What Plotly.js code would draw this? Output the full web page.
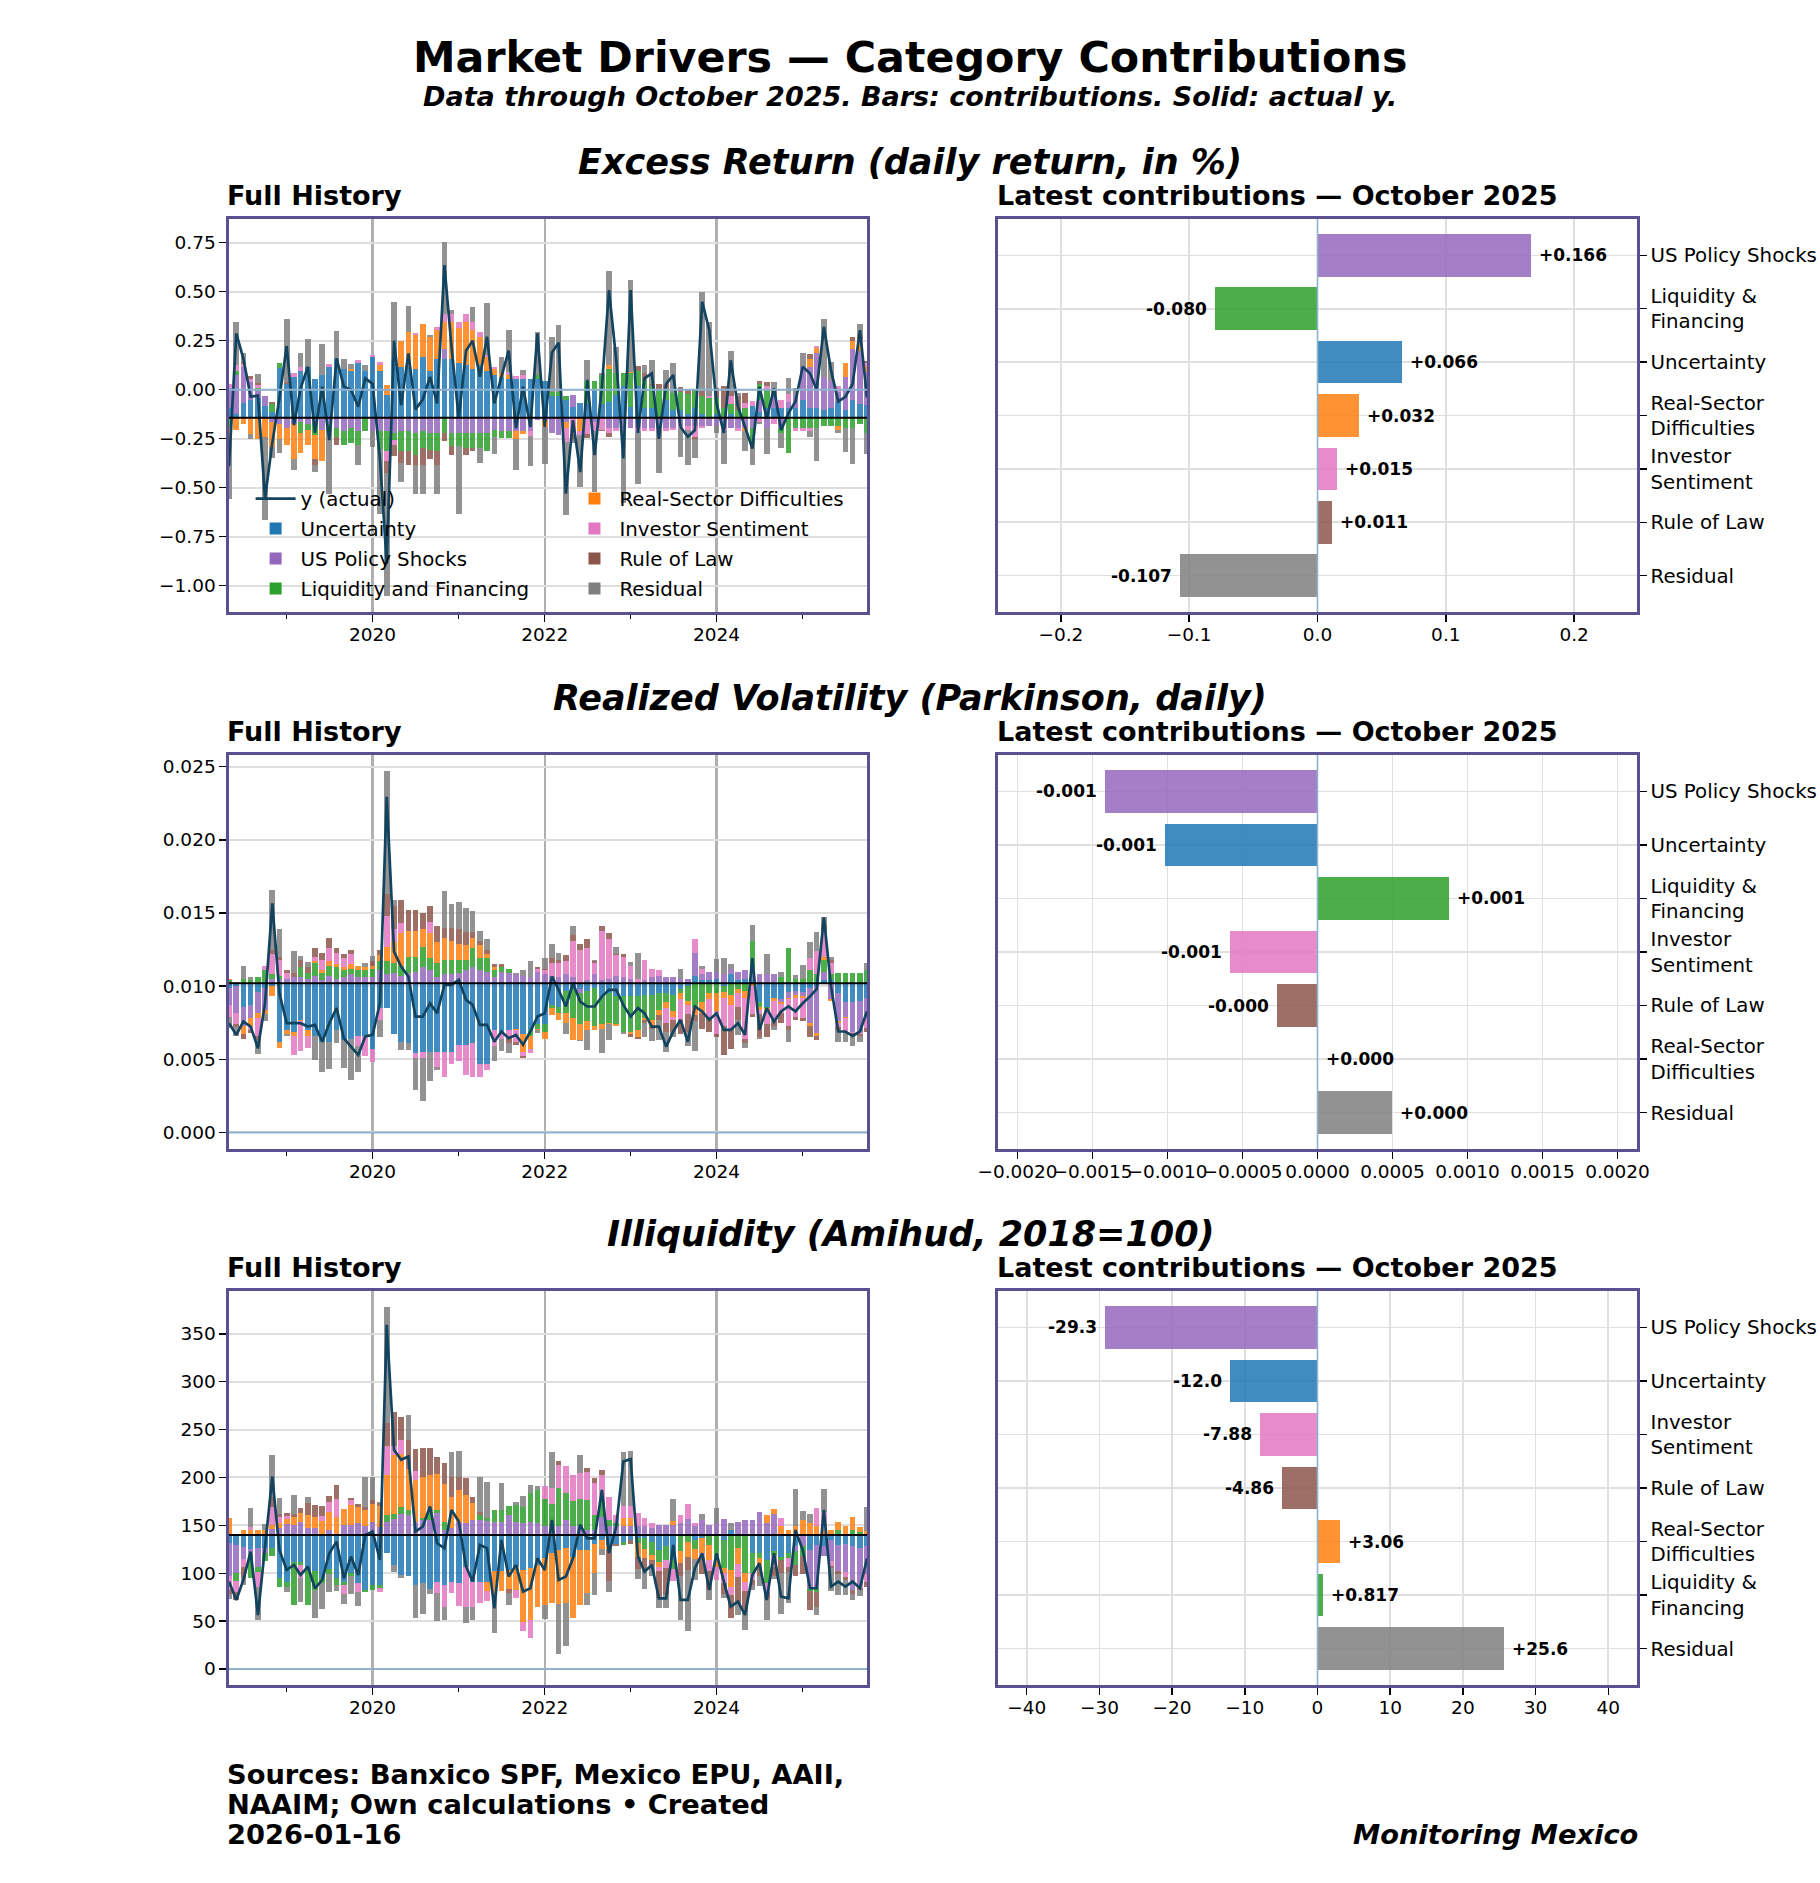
<!DOCTYPE html>
<html><head><meta charset="utf-8">
<script src="https://cdn.plot.ly/plotly-3.0.1.min.js"></script>
<style>html,body{margin:0;padding:0;background:#fff}</style>
</head><body><div id="chart" style="width:1820px;height:1883px"></div>
<script>
// ---------------- DATA ----------------
const months = [
 '2018-05-01','2018-06-01','2018-07-01','2018-08-01','2018-09-01','2018-10-01','2018-11-01','2018-12-01',
 '2019-01-01','2019-02-01','2019-03-01','2019-04-01','2019-05-01','2019-06-01','2019-07-01','2019-08-01','2019-09-01','2019-10-01','2019-11-01','2019-12-01',
 '2020-01-01','2020-02-01','2020-03-01','2020-04-01','2020-05-01','2020-06-01','2020-07-01','2020-08-01','2020-09-01','2020-10-01','2020-11-01','2020-12-01',
 '2021-01-01','2021-02-01','2021-03-01','2021-04-01','2021-05-01','2021-06-01','2021-07-01','2021-08-01','2021-09-01','2021-10-01','2021-11-01','2021-12-01',
 '2022-01-01','2022-02-01','2022-03-01','2022-04-01','2022-05-01','2022-06-01','2022-07-01','2022-08-01','2022-09-01','2022-10-01','2022-11-01','2022-12-01',
 '2023-01-01','2023-02-01','2023-03-01','2023-04-01','2023-05-01','2023-06-01','2023-07-01','2023-08-01','2023-09-01','2023-10-01','2023-11-01','2023-12-01',
 '2024-01-01','2024-02-01','2024-03-01','2024-04-01','2024-05-01','2024-06-01','2024-07-01','2024-08-01','2024-09-01','2024-10-01','2024-11-01','2024-12-01',
 '2025-01-01','2025-02-01','2025-03-01','2025-04-01','2025-05-01','2025-06-01','2025-07-01','2025-08-01','2025-09-01','2025-10-01'];

const seriesNames = ['Uncertainty','US Policy Shocks','Liquidity and Financing','Real-Sector Difficulties','Investor Sentiment','Rule of Law','Residual'];
const barLabels = ['Uncertainty','US Policy Shocks','Liquidity &<br>Financing','Real-Sector<br>Difficulties','Investor<br>Sentiment','Rule of Law','Residual'];
const colors = ['#1f77b4','#9467bd','#2ca02c','#ff7f0e','#e377c2','#8c564b','#7f7f7f'];

// ---- Excess Return (daily return, in %) ----
const er_baseline = -0.143;
const er_y = [-0.39,0.287,0.159,-0.036,-0.03,-0.555,-0.27,-0.044,0.223,-0.18,
 0.007,0.117,-0.22,0.015,-0.257,0.16,0.015,0.0,-0.087,0.058,
 0.03,-0.35,-0.886,0.25,-0.08,0.185,-0.10,-0.05,0.066,-0.07,
 0.636,0.22,-0.146,0.2,0.25,0.066,0.27,-0.07,0.066,0.2,
 -0.197,0.015,-0.19,0.287,-0.19,0.19,0.24,-0.53,-0.155,-0.42,
 0.05,-0.333,0.015,0.508,0.15,-0.35,0.508,-0.22,0.058,0.083,
 -0.25,0.03,0.075,-0.19,-0.24,-0.206,0.449,0.304,-0.07,-0.22,
 0.15,-0.087,-0.19,-0.3,0.015,-0.146,0.007,-0.206,-0.12,-0.06,
 0.117,0.083,0.0,0.32,0.1,-0.06,-0.036,0.03,0.304,-0.04];
const er_unc = [.05,.02,.077,.09,.1,.06,.03,.255,.17,.21,
 .24,.26,.20,.22,.26,.30,.25,.24,.28,.24,
 .31,.24,.116,.30,.26,.26,.25,.31,.24,.30,
 .30,.30,.28,.27,.25,.27,.24,.22,.21,.2,
 .2,.2,.2,.2,.19,.11,.11,.09,.055,.075,
 .07,.14,.07,.08,.116,.16,.056,.16,.05,.05,
 0,.09,.04,.04,.02,.05,.02,0,.02,0,
 .02,0,0,.06,.03,.05,.05,.05,.05,.05,
 .09,.05,.05,.04,.05,.08,.04,.09,.07,.066];
const er_pol = [.1,.2,.18,.09,.035,.05,-.02,-.03,-.05,-.03,
 -.02,-.03,-.02,-.06,-.03,-.05,-.07,-.05,-.07,0,
 -.07,-.07,-.07,-.077,-.07,-.07,-.08,-.07,-.077,-.077,
 .05,-.077,-.077,-.077,-.077,-.077,-.077,-.06,-.068,-.068,
 -.068,-.068,-.068,-.01,-.01,-.077,-.09,-.02,.06,0,
 0,-.02,0,-.05,-.05,-.05,-.05,-.05,-.05,-.05,
 -.05,-.05,-.05,-.04,-.04,-.04,-.04,-.04,-.04,-.05,
 -.05,-.05,-.05,-.05,.06,-.05,.07,-.05,.03,.07,
 .17,.21,.28,.17,.14,.05,.17,.26,.27,.166];
const er_liq = [-.05,.02,0,0,.015,0,.04,.024,0,0,
 -.06,-.03,-.07,0,-.04,-.05,-.07,-.08,-.07,-.07,
 0,-.09,-.1,-.034,-.1,-.1,-.11,-.085,-.085,-.094,
 -.077,-.068,-.068,-.077,-.077,-.077,-.094,-.04,-.034,-.037,
 0,0,0,.02,0,.02,.02,.02,0,0,
 .12,.05,.15,.17,.11,.07,.17,.077,.145,.11,
 .14,.05,.085,.09,.1,.09,.09,.1,.08,.05,
 .05,.04,.05,-.085,.08,.09,0,-.03,-.18,-.05,
 -.05,-.05,-.05,-.04,-.04,-.04,-.05,-.05,-.03,-.080];
const er_real = [-.08,-.06,-.03,-.085,-.11,-.1,-.13,-.08,-.09,-.18,
 -.1,-.08,-.12,-.16,0,0,0,.01,0,0,
 0,.03,.05,0,.13,.18,.17,.17,.17,.15,
 .136,.19,.18,.22,.2,.14,.07,.03,.02,.02,
 -.04,-.017,0,0,-.035,0,0,-.034,0,-.068,
 0,0,0,.017,0,0,.01,0,0,0,
 0,0,0,0,0,0,0,0,0,0,
 0,0,-.02,0,0,0,0,0,0,0,
 0,.04,.025,0,0,-.02,.07,.04,.04,.032];
const er_sent = [.02,.03,.017,.02,.015,0,0,0,0,.017,
 .017,0,0,0,.014,0,0,0,.017,0,
 .012,.014,-.05,-.026,0,0,.01,0,0,.012,
 .042,.04,.03,.04,.04,.03,.01,.01,0,.015,
 .015,.02,-.025,0,0,0,0,-.068,-.085,-.02,
 -.085,-.05,-.06,-.03,-.02,-.02,0,-.02,-.02,-.02,
 -.02,-.02,-.01,-.01,-.02,-.06,-.01,.01,0,-.02,
 .04,-.02,.025,.025,-.02,.02,-.03,.04,.04,-.02,
 -.02,-.02,.01,0,0,.03,0,0,.02,.015];
const er_law = [0,0,.01,.015,.01,0,.01,0,.012,0,
 0,0,-.03,0,0,-.04,0,0,0,0,
 0,0,-.06,-.06,-.06,-.07,-.05,-.085,-.05,-.068,
 -.043,-.043,0,-.034,-.017,0,0,0,0,0,
 0,0,0,0,0,0,0,0,-.025,0,
 -.017,0,-.01,-.02,0,0,0,.025,.034,.01,
 .034,.03,0,.025,.025,-.01,.025,0,.05,.11,
 .03,.07,.05,0,.02,.02,.02,0,0,0,
 0,.025,0,0,0,0,0,.02,.02,.011];
const er_res = [-.287,.22,.048,-.023,.048,-.422,-.057,-.07,.324,-.054,
 .073,.14,-.037,.158,-.318,.143,.048,.023,-.1,.03,
 -.079,-.331,-.629,.29,-.097,.128,-.147,-.147,.011,-.15,
 .371,.021,-.348,.001,.074,-.077,.264,-.087,.081,.213,
 -.161,.023,-.154,.22,-.192,.28,.343,-.375,-.017,-.264,
 .105,-.31,.008,.484,.137,-.367,.465,-.269,.042,.126,
 -.211,.073,.153,-.152,-.182,-.093,.507,.377,-.037,-.167,
 .203,.016,-.102,-.107,-.012,-.133,.04,-.073,.083,.033,
 .07,-.029,-.172,.293,.093,-.017,-.123,-.187,.057,-.107];

// ---- Realized Volatility (Parkinson, daily) ----
const vol_baseline = 0.0102;
const vol_y = [.00747,.00667,.00758,.00724,.00576,.00883,.01566,.00952,.00747,.00747,
 .00747,.00724,.00735,.0062,.00747,.0085,.00644,.00587,.0053,.00656,
 .00667,.00883,.02295,.01236,.01134,.01066,.00792,.00792,.00883,.00815,
 .01009,.01009,.01043,.00906,.00872,.00735,.00735,.0062,.0069,.00644,
 .00667,.00599,.0069,.00792,.00815,.01066,.00975,.00861,.0102,.00895,
 .00861,.00861,.00929,.00975,.00975,.00872,.00792,.0085,.00815,.00724,
 .00724,.00587,.0069,.0077,.0062,.00861,.00827,.0077,.00815,.00701,
 .00701,.00747,.00667,.01191,.00701,.0085,.00758,.00827,.00861,.00827,
 .00883,.0093,.0098,.0147,.0100,.0069,.0069,.0066,.0069,.00828];
const vol_unc = [-.0003,-.0002,-.0016,-.0015,-.0006,-.0003,-.0002,-.004,-.0032,-.0033,
 -.0025,-.0032,-.0036,-.004,-.004,-.0032,-.0039,-.0038,-.0036,-.0036,
 -.0045,-.0017,-.0017,-.0035,-.004,-.0041,-.0048,-.0047,-.0047,-.0047,
 -.0047,-.0047,-.0042,-.0042,-.0041,-.0055,-.0055,-.0032,-.0033,-.0032,
 -.0031,-.0035,-.0032,-.0028,-.0028,-.0015,-.0016,-.0005,-.0004,-.0004,
 -.0005,-.0003,-.0009,-.0007,-.0009,-.0009,-.0009,-.0009,-.0008,-.0008,
 -.0007,-.0007,-.0008,-.0004,-.0002,.0005,.0002,.0002,.0003,-.0002,
 .0006,.0002,.0003,.0002,-.0013,-.0016,-.001,-.0011,-.0006,-.0005,
 -.0006,-.0003,-.0002,.0002,.0002,-.0007,-.0013,-.0013,-.0012,-.00102];
const vol_pol = [-.0012,-.0018,-.0013,-.0009,-.0014,-.0015,.0003,.0003,.0003,.0004,
 .0004,.0003,.0005,.0002,.0005,.0003,.0004,.0006,.0004,.0004,
 .0004,.0009,.0006,.0007,.0005,.0007,.0008,.0011,.0009,.0004,
 .0006,.0006,.0007,.0009,.0011,.0009,.0008,.0004,.0008,.0007,
 .0006,.0005,.0004,.0008,.0006,.0005,.0004,.0006,.0004,-.0003,
 .0002,.0006,.0002,.0003,.0005,.0004,.0003,.0001,.0002,.0004,
 .0005,.0004,.0004,.0003,.0003,.0016,.0004,.0006,.0005,.0006,
 .0004,.0006,.0006,.0007,.0006,.0006,.0006,-.0002,-.0004,-.0003,
 -.0003,-.0024,-.0032,.0006,-.0011,-.0019,-.001,-.002,-.0021,-.00142];
const vol_liq = [.0002,0,.0003,.0002,.0004,.0009,.0003,.0002,0,0,
 .0007,.0004,.0009,.0005,.0007,.0008,.0005,.0004,.0005,.0005,
 .0006,.0006,.0009,.0007,.0007,.0011,.001,.0014,.0008,.001,
 .001,.001,.0009,.0007,.0013,.0008,.0009,.0005,.0003,.0003,
 0,0,-.0004,-.0003,-.0005,-.0002,-.0004,-.0015,-.002,-.0021,
 -.0021,-.0026,-.0019,-.002,-.0019,-.0024,-.0024,-.0023,-.0016,-.0017,
 -.0011,-.0006,-.0011,-.0003,-.001,-.0017,-.0013,-.0007,-.0007,-.0004,
 -.0008,-.0004,-.0005,.002,-.0003,-.0001,0,.0004,.0024,.0003,
 .0003,.0009,.0006,.0008,.0004,.0007,.0007,.0007,.0007,.000875];
const vol_real = [.0001,.0001,-.0006,-.0005,-.0004,-.0003,-.0007,-.0004,-.0003,-.0003,
 -.0001,-.0004,.0001,.0002,.0003,.0002,.0002,.0003,.0003,.0002,
 .0002,.0004,.001,.0014,.0022,.0018,.0018,.0012,.0017,.0014,
 .0015,.0013,.0011,.001,.0007,.0009,.0003,.0002,0,0,
 -.0001,-.0012,-.0009,-.0001,-.0005,-.0005,-.0005,-.0007,-.0015,-.0011,
 -.0006,-.0003,-.0003,-.0001,-.0001,0,-.0002,-.0005,-.0001,-.0004,
 -.0004,-.0004,-.0004,-.0004,-.0003,-.0005,-.0007,-.0004,-.0012,-.0004,
 -.0007,-.0003,-.0005,-.0002,-.0002,-.0002,-.0002,-.0001,-.0001,-.0002,
 -.0001,-.0002,-.0002,.0002,-.0001,-.0001,-.0001,0,0,.000003];
const vol_sent = [-.0008,-.0008,0,-.0003,-.0012,.0003,.0014,.0011,.0004,-.0013,
 -.002,-.0008,.0003,.0007,.0009,.0008,.0006,.0007,-.0007,-.0014,
 -.0009,-.0008,.0021,.0009,.0007,0,-.0003,-.0004,.0008,-.001,
 -.0017,-.0008,-.0011,-.0021,-.0023,-.0009,-.0004,-.0011,-.0005,-.0005,
 -.0008,-.0003,-.0003,.0002,.0003,.0009,.001,.0009,.0025,.0023,
 .0022,.0008,.0034,.0027,.0014,.0014,.0009,.0002,.0014,.0006,
 .0004,-.001,-.0002,-.0014,-.0006,.0009,.0004,-.0012,-.0016,-.0019,
 -.0016,-.0009,-.0028,-.0019,-.0003,-.0009,-.0014,-.0006,-.0018,-.0013,
 -.0014,.0008,.0016,.0018,.0008,-.0003,-.0009,-.0001,-.0002,-.000586];
const vol_law = [0,-.0002,-.0003,-.0002,-.0003,0,.0003,.0002,.0002,.0003,
 .0005,.0004,.0006,.0005,.0007,.0003,.0003,.0003,0,0,
 .0003,.0004,.0015,.0016,.0016,.0014,.0014,.0011,.0011,.0011,
 .0007,.0009,.001,.0009,.0004,.0003,.0003,.0002,.0002,-.0004,
 -.0002,-.0001,0,.0001,.0001,.0003,.0002,.0004,.0004,.0004,
 .0006,.0001,.0003,.0004,.0001,.0002,-.0002,-.0001,-.0002,-.0002,
 -.0003,-.0006,-.0008,-.001,-.0012,-.0004,-.0011,-.001,-.0002,-.002,
 -.0014,-.0009,-.0003,-.0002,-.0016,-.0009,-.0003,-.0007,-.0003,-.0002,
 -.0002,-.0008,-.0003,.0004,.0002,-.0002,-.0001,-.0001,-.0001,-.000273];
const vol_res = [-.00073,-.00063,.00088,.00024,-.00094,-.00047,.00406,.0019,-.00013,.00147,
 .00027,.00034,-.00165,-.0021,-.00183,-.0009,-.00186,-.00283,-.0018,.00026,
 .00037,-.00117,.0084,.00036,-.00056,-.00044,-.00218,-.00298,-.00197,-.00025,
 .00249,.00159,.00183,.00166,.00142,.00065,.00075,-.001,-.0008,-.00066,
 .00007,.0004,.0011,-.00018,.00075,.00096,.00045,-.00079,.0006,-.00005,
 -.00139,.00011,-.0017,-.00105,.00045,-.00018,.00022,.0018,-.00095,-.00086,
 -.00136,-.00143,-.0004,.0007,-.001,-.002,.00017,0,.00085,.0011,
 .0003,-.00103,-.00033,.00111,-.00009,.0014,-.00032,.00037,-.00079,.00027,
 .00093,.0011,.0013,.0005,.0002,-.0008,-.0006,-.0008,-.0004,.000498];

// ---- Illiquidity (Amihud, 2018=100) ----
const ilq_baseline = 140;
const ilq_y = [91.3,72.1,93,122.6,56.4,124.3,201,124.3,103.4,108.7,
 98.2,106.9,84.3,93,120.9,133,94.7,117.4,98.2,140,
 143.5,113.9,359.5,228.8,218.4,221.9,143.5,148.7,169.6,131.3,
 126.1,166.1,154,106.9,91.3,129.6,126.1,63.4,134.8,96.5,
 108.7,80.8,84.3,115.6,103.4,155.7,93,96.5,115.6,150.5,
 136.5,136.5,187,120.9,148.7,216.6,219.1,117.4,101.7,108.7,
 73.8,73.8,129.6,72.1,72.1,105.2,120.9,82.5,120.9,91.3,
 65.1,70.4,56.4,98.2,110.4,72.1,120.9,75.6,73.8,145.2,
 124.3,84.3,84.3,166.1,86,91.3,86,91.3,84.3,115.4];
const ilq_unc = [-8,-10,-13,-15,-14,-14,-14,-45,-49,-28,
 -28,-37,-38,-45,-36,-45,-49,-40,-50,-57,
 -52,-52,-19,-31,-42,-43,-52,-50,-56,-49,
 -52,-49,-50,-33,-49,-49,-49,-38,-38,-37,
 -33,-37,-35,-31,-24,-19,-16,-14,-23,-16,
 -16,-9,-5,-10,-9,-7,-5,-3,-3,-7,
 -16,-12,-26,0,0,-5,-3,0,0,-5,
 5,0,0,-19,-19,-26,-17,-23,-19,-12,
 0,-16,-10,-12,-5,-10,-9,-12,-14,-12.0];
const ilq_pol = [-35,-30,-12,-5,-20,-5,6,7,11,10,
 14,7,7,0,5,0,10,10,12,9,
 13,8,14,17,22,21,14,16,16,23,
 5,7,14,12,16,16,15,14,14,21,
 14,12,14,12,9,9,9,16,9,9,
 5,5,19,9,9,9,9,9,9,7,
 10,10,10,12,17,9,16,10,12,17,
 0,14,16,16,24,12,22,0,0,-5,
 -12,-40,-45,-10,-22,-28,-30,-45,-38,-29.3];
const ilq_liq = [0,-8,0,-25,-5,-8,-8,-9,-5,-45,
 -3,-36,-20,-5,-5,-7,-3,-3,0,-3,
 -5,-3,7,5,7,5,0,2,9,3,
 8,0,0,0,0,5,3,12,12,9,
 17,17,30,35,28,23,40,28,26,28,
 31,16,16,7,3,-3,0,-5,-12,-14,
 -12,-14,-10,-17,-7,-10,0,-10,-24,-30,
 -37,-14,-40,-21,-5,-24,-5,-3,-5,-14,
 -10,-3,-5,0,0,5,0,5,3,0.817];
const ilq_real = [18,0,5,5,5,5,4,5,6,9,
 9,14,12,15,19,19,17,21,17,17,
 19,22,42,61,56,43,43,43,38,38,
 40,33,33,30,17,0,-10,-23,-21,-19,
 -24,-54,-54,-44,-49,-52,-56,-57,-64,-57,
 -45,-31,-10,-5,0,9,9,-15,-9,-5,
 -5,0,5,-12,-16,-10,-16,-16,-9,-5,
 -17,-16,-9,0,-9,9,5,9,5,9,
 16,12,9,5,5,9,9,14,5,3.06];
const ilq_sent = [-14,-12,-8,3,-15,0,19,7,3,0,
 -14,0,0,5,10,19,-10,5,-10,0,
 0,-5,30,10,14,0,10,0,0,-12,
 -23,-12,-24,-42,-26,-22,-10,0,0,0,
 -9,-9,-19,0,14,17,24,28,28,28,
 30,33,28,24,9,12,12,14,9,5,
 -5,-9,-12,9,15,3,-5,-12,-14,-10,
 -9,-14,-10,-7,0,-10,-12,9,-10,0,
 0,0,19,19,-5,0,-5,0,-3,-7.88];
const ilq_law = [-5,-8,-12,0,0,0,11,3,3,3,
 5,12,12,10,7,14,0,3,3,3,
 4,3,24,35,24,30,23,30,28,17,
 22,21,14,17,7,3,0,0,0,-5,
 0,0,0,0,0,0,4,0,0,0,
 4,5,5,-33,-3,0,-4,-13,-14,-5,
 -28,-28,0,-14,-14,0,-17,-20,0,-12,
 -24,-28,-21,-5,-10,-7,-9,-14,-5,-12,
 -19,-19,-15,0,-3,-3,-3,-5,-3,-4.86];
const ilq_res = [-4.7,0.1,-7,19.6,-34.6,6.3,43,17,-5.6,19.7,
 -24.8,6.9,-28.7,-27,-19.1,-7,-10.3,-18.6,-13.8,31,
 24.5,0.9,121.5,-8.2,-2.6,25.9,-34.5,-32.3,-5.4,-28.7,
 -13.9,26.1,27,-17.1,-13.7,36.6,37.1,-41.6,27.8,-12.5,
 3.7,11.8,8.3,3.6,-14.6,37.7,-52,-44.5,0,18.5,
 -12.5,-22.5,-6,-11.1,0,56.6,58.1,-9.6,-18.3,-12.3,
 -10.2,-13.2,22.6,-45.9,-62.9,-21.8,5.9,-9.5,15.9,-3.7,
 7.1,-11.6,-19.6,-5.8,-10.6,-21.9,-3.1,-42.4,-32.2,39.2,
 9.3,10.3,-8.7,24.1,-24,-21.7,-16,-5.7,-5.7,25.6];

// ---------------- BUILD ----------------
const FONT = 'DejaVu Sans';
const SPINE = '#5a5191';
const LINE_COLOR = '#12445f';
const ZERO_COLOR = '#8fb2cf';
const X_RANGE = ['2018-05-01','2025-10-01'];
const BAR_W = 24*86400000;

const panels = [
  {title:'Excess Return (daily return, in %)', base:er_baseline, y:er_y,
   s:[er_unc,er_pol,er_liq,er_real,er_sent,er_law,er_res],
   yrange:[-1.134,0.871], dtick:0.25, tfmt:'.2f', rdtick:0.1, rfmt:'.1f', lab:v=>v.toFixed(3)},
  {title:'Realized Volatility (Parkinson, daily)', base:vol_baseline, y:vol_y,
   s:[vol_unc,vol_pol,vol_liq,vol_real,vol_sent,vol_law,vol_res],
   yrange:[-0.00113,0.0258], dtick:0.005, tfmt:'.3f', rdtick:0.0005, rfmt:'.4f', lab:v=>v.toFixed(3)},
  {title:'Illiquidity (Amihud, 2018=100)', base:ilq_baseline, y:ilq_y,
   s:[ilq_unc,ilq_pol,ilq_liq,ilq_real,ilq_sent,ilq_law,ilq_res],
   yrange:[-16.7,394.7], dtick:50, tfmt:'d', rdtick:10, rfmt:'d', lab:v=>v.toPrecision(3)}
];

const W=1820, H=1883;
const fx = px => px/W;
const fy = py => 1 - py/H;
const rowsPx = [[219,612],[755,1149],[1291,1685]];
const leftPx = [229,867], rightPx = [998,1637];

const traces = [], annotations = [], shapes = [];
const legendCommon = {xanchor:'left', yanchor:'top', bgcolor:'rgba(0,0,0,0)',
  font:{family:FONT,size:19.8,color:'#000'}, tracegroupgap:1.2, itemwidth:40, traceorder:'grouped'};
const layout = {
  width:W, height:H, margin:{l:0,r:0,t:0,b:0},
  paper_bgcolor:'#ffffff', plot_bgcolor:'#ffffff',
  barmode:'overlay', bargap:0,
  font:{family:FONT, size:18.5, color:'#000'},
  showlegend:true,
  legend:Object.assign({x:0.1377, y:0.7455}, legendCommon),
  legend2:Object.assign({x:0.3129, y:0.7455}, legendCommon)
};

panels.forEach((p, r) => {
  const li = 2*r+1, ri = 2*r+2;
  const xL = li===1?'x':'x'+li, yL = li===1?'y':'y'+li;
  const xR = 'x'+ri, yR = 'y'+ri;
  const dom = [fy(rowsPx[r][1]), fy(rowsPx[r][0])];

  // stacked bases from baseline
  const n = months.length;
  const bases = p.s.map(()=>new Array(n));
  for (let j=0;j<n;j++){
    let pos=p.base, neg=p.base;
    p.s.forEach((ser,k)=>{ const v=ser[j]; if (v>=0){bases[k][j]=pos; pos+=v;} else {bases[k][j]=neg; neg+=v;} });
  }
  p.s.forEach((ser,k)=>{
    traces.push({type:'bar', x:months, y:ser, base:bases[k], width:BAR_W,
      marker:{color:colors[k], opacity:0.85, line:{width:0}},
      name:seriesNames[k], xaxis:xL, yaxis:yL,
      showlegend:r===0, legend: k<3 ? 'legend' : 'legend2', legendgroup:'g'+k, legendrank:k+2,
      hoverinfo:'skip'});
  });
  traces.push({type:'scatter', mode:'lines', x:months, y:p.y, line:{color:LINE_COLOR,width:2.7},
    name:'y (actual)', xaxis:xL, yaxis:yL, showlegend:r===0, legend:'legend', legendgroup:'gy', legendrank:1, hoverinfo:'skip'});

  layout['xaxis'+(li===1?'':li)] = {domain:[fx(leftPx[0]),fx(leftPx[1])], anchor:yL, type:'date', range:X_RANGE,
    tick0:'2020-01-01', dtick:'M24', tickformat:'%Y', ticks:'outside', ticklen:7, tickwidth:1.4, tickcolor:'#000',
    ticklabelstandoff:-3,
    showgrid:true, gridcolor:'#b0b0b0', gridwidth:2.4, showline:true, linecolor:SPINE, linewidth:2.6, mirror:true,
    zeroline:false, tickangle:0, tickfont:{size:18.5},
    minor:{tick0:'2019-01-01', dtick:'M12', ticks:'outside', ticklen:4, tickwidth:1.2, tickcolor:'#000', showgrid:false}};
  layout['yaxis'+(li===1?'':li)] = {domain:dom, anchor:xL, range:p.yrange, tick0:0, dtick:p.dtick, tickformat:p.tfmt,
    ticks:'outside', ticklen:7, tickwidth:1.4, tickcolor:'#000', showgrid:true, gridcolor:'#dedede', gridwidth:2,
    showline:true, linecolor:SPINE, linewidth:2.6, mirror:true, zeroline:false, tickfont:{size:18.5}};

  shapes.push({type:'line', xref:xL+' domain', x0:0, x1:1, yref:yL, y0:0, y1:0, line:{color:ZERO_COLOR,width:2}, layer:'above'});
  shapes.push({type:'line', xref:xL+' domain', x0:0, x1:1, yref:yL, y0:p.base, y1:p.base, line:{color:'#000',width:2}, layer:'above'});

  // latest contributions
  const last = p.s.map(ser=>ser[ser.length-1]);
  const idx = [0,1,2,3,4,5].sort((a,b)=>Math.abs(last[b])-Math.abs(last[a]));
  idx.push(6);
  const vals = idx.map(i=>last[i]);
  const pos = idx.map((_,i)=>i);
  traces.push({type:'bar', orientation:'h', x:vals, y:pos, width:0.8,
    marker:{color:idx.map(i=>colors[i]), opacity:0.85, line:{width:0}},
    xaxis:xR, yaxis:yR, showlegend:false, hoverinfo:'skip'});
  const lim = 1.5*Math.max(...vals.map(Math.abs));
  vals.forEach((v,i)=>{
    annotations.push({xref:xR, yref:yR, x:v, y:pos[i], text:(v>=0?'+':'')+p.lab(v), showarrow:false,
      xanchor: v>=0?'left':'right', yanchor:'middle', xshift: v>=0?6:-6,
      font:{family:FONT,size:17,color:'#000',weight:'bold'}});
  });
  layout['xaxis'+ri] = {domain:[fx(rightPx[0]),fx(rightPx[1])], anchor:yR, range:[-lim,lim], tick0:0, dtick:p.rdtick,
    tickformat:p.rfmt, ticks:'outside', ticklen:7, tickwidth:1.4, tickcolor:'#000', ticklabelstandoff:-3,
    showgrid:true, gridcolor:'#e0e0e0', gridwidth:1.6,
    showline:true, linecolor:SPINE, linewidth:2.6, mirror:true, zeroline:false, tickangle:0, tickfont:{size:18.5}};
  layout['yaxis'+ri] = {domain:dom, anchor:xR, side:'right', range:[6.68,-0.68], tickvals:pos, ticktext:idx.map(i=>barLabels[i]),
    ticks:'outside', ticklen:7, tickwidth:1.4, tickcolor:'#000', showgrid:true, gridcolor:'#e0e0e0', gridwidth:1.6,
    showline:true, linecolor:SPINE, linewidth:2.6, mirror:true, zeroline:false, tickfont:{size:19.8}};
  shapes.push({type:'line', xref:xR, x0:0, x1:0, yref:yR+' domain', y0:0, y1:1, line:{color:ZERO_COLOR,width:1.6}, layer:'above'});

  // titles
  const top = rowsPx[r][0];
  annotations.push({xref:'paper', yref:'paper', x:0.5, y:fy(top-56.6), text:p.title, showarrow:false, borderpad:0,
    xanchor:'center', yanchor:'middle', font:{family:FONT,size:35,color:'#000',weight:'bold',style:'italic'}});
  annotations.push({xref:'paper', yref:'paper', x:fx(leftPx[0]-3), y:fy(top-23.5), text:'Full History', showarrow:false, borderpad:0,
    xanchor:'left', yanchor:'middle', font:{family:FONT,size:27,color:'#000',weight:'bold'}});
  annotations.push({xref:'paper', yref:'paper', x:fx(rightPx[0]-2), y:fy(top-23.5), text:'Latest contributions — October 2025', showarrow:false, borderpad:0,
    xanchor:'left', yanchor:'middle', font:{family:FONT,size:27,color:'#000',weight:'bold'}});
});

annotations.push({xref:'paper', yref:'paper', x:0.5, y:fy(56.5), text:'Market Drivers — Category Contributions', showarrow:false, borderpad:0,
  xanchor:'center', yanchor:'middle', font:{family:FONT,size:42.8,color:'#000',weight:'bold'}});
annotations.push({xref:'paper', yref:'paper', x:0.5, y:fy(96.5), text:'Data through October 2025. Bars: contributions. Solid: actual y.', showarrow:false, borderpad:0,
  xanchor:'center', yanchor:'middle', font:{family:FONT,size:27,color:'#000',weight:'bold',style:'italic'}});
const footer = ['Sources: Banxico SPF, Mexico EPU, AAII,','NAAIM; Own calculations • Created','2026-01-16'];
footer.forEach((t,i)=>annotations.push({xref:'paper', yref:'paper', x:fx(leftPx[0]-3), y:fy(1774+30*i), text:t, showarrow:false, borderpad:0,
  xanchor:'left', yanchor:'middle', font:{family:FONT,size:27.3,color:'#000',weight:'bold'}}));
annotations.push({xref:'paper', yref:'paper', x:fx(rightPx[1]+2), y:fy(1834), text:'Monitoring Mexico', showarrow:false, borderpad:0,
  xanchor:'right', yanchor:'middle', font:{family:FONT,size:27.3,color:'#000',weight:'bold',style:'italic'}});

layout.annotations = annotations;
layout.shapes = shapes;

Plotly.newPlot('chart', traces, layout, {displayModeBar:false, staticPlot:true});
</script>
</body></html>
